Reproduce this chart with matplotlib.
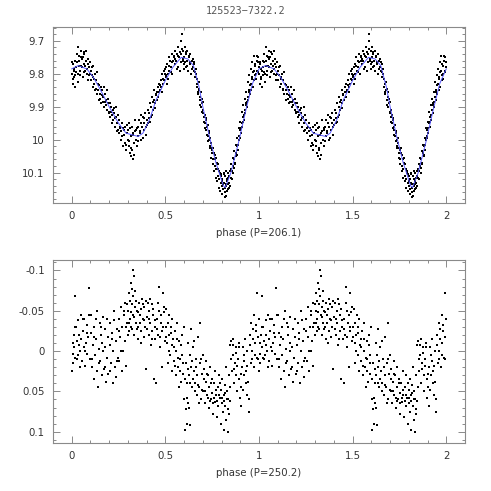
import matplotlib
matplotlib.use("Agg")
import matplotlib.pyplot as plt
from matplotlib.ticker import MultipleLocator, FixedLocator, FuncFormatter
import numpy as np

title = "125523\u22127322.2"
xlabel_top = "phase (P=206.1)"
xlabel_bot = "phase (P=250.2)"

# ---- top panel: phased light curve (one cycle, plotted twice) ----
top_phase = [
    0.002, 0.005, 0.008, 0.011, 0.014, 0.017, 0.020, 0.023, 0.027, 0.031, 0.035, 0.039, 0.043, 0.047,
    0.051, 0.054, 0.058, 0.061, 0.064, 0.068, 0.071, 0.075, 0.078, 0.082, 0.085, 0.089, 0.093, 0.097,
    0.101, 0.104, 0.108, 0.111, 0.115, 0.118, 0.122, 0.126, 0.130, 0.134, 0.138, 0.142, 0.146,
    0.151, 0.155, 0.158, 0.162, 0.166, 0.170, 0.174, 0.178, 0.182, 0.186, 0.190, 0.194, 0.198,
    0.202, 0.206, 0.210, 0.214, 0.218, 0.222, 0.226, 0.230, 0.234, 0.238, 0.242, 0.246,
    0.251, 0.255, 0.259, 0.263, 0.267, 0.271, 0.275, 0.279, 0.283, 0.287, 0.291, 0.295, 0.299,
    0.302, 0.305, 0.308, 0.311, 0.314, 0.317, 0.320, 0.323, 0.326, 0.329, 0.333, 0.337, 0.341, 0.345, 0.349,
    0.352, 0.356, 0.360, 0.364, 0.368, 0.372, 0.376, 0.380, 0.384, 0.388, 0.392, 0.396,
    0.401, 0.405, 0.409, 0.413, 0.417, 0.421, 0.425, 0.429, 0.433, 0.437, 0.441, 0.445,
    0.451, 0.455, 0.459, 0.463, 0.467, 0.471, 0.475, 0.479, 0.483, 0.487, 0.491, 0.495, 0.499,
    0.502, 0.505, 0.508, 0.511, 0.514, 0.518, 0.522, 0.526, 0.530, 0.534, 0.538, 0.542, 0.546,
    0.551, 0.554, 0.558, 0.562, 0.566, 0.570, 0.574, 0.578, 0.582, 0.586, 0.589, 0.592, 0.596, 0.599,
    0.602, 0.605, 0.608, 0.611, 0.614, 0.618, 0.622, 0.626, 0.630, 0.634, 0.638, 0.642, 0.646,
    0.651, 0.655, 0.659, 0.663, 0.667, 0.671, 0.675, 0.679, 0.683, 0.687, 0.691, 0.695, 0.699,
    0.703, 0.707, 0.711, 0.715, 0.719, 0.723, 0.727, 0.731, 0.735, 0.739, 0.743, 0.747,
    0.751, 0.755, 0.759, 0.763, 0.767, 0.771, 0.775, 0.779, 0.783, 0.787, 0.791, 0.795, 0.799,
    0.802, 0.805, 0.808, 0.811, 0.814, 0.817, 0.820, 0.823, 0.826, 0.829, 0.832, 0.835, 0.838, 0.842, 0.846,
    0.851, 0.855, 0.859, 0.863, 0.867, 0.871, 0.875, 0.879, 0.883, 0.887, 0.891, 0.895, 0.899,
    0.903, 0.907, 0.911, 0.915, 0.919, 0.923, 0.927, 0.931, 0.935, 0.939, 0.943, 0.947,
    0.951, 0.955, 0.959, 0.963, 0.967, 0.971, 0.975, 0.979, 0.983, 0.987, 0.991, 0.995, 0.998,
]
top_mag = [
    9.80, 9.83, 9.77, 9.81, 9.79, 9.84, 9.76, 9.78, 9.74, 9.80, 9.72, 9.76, 9.79, 9.75,
    9.73, 9.78, 9.81, 9.75, 9.77, 9.74, 9.79, 9.76, 9.73, 9.80, 9.77, 9.82, 9.78, 9.80,
    9.79, 9.82, 9.78, 9.84, 9.81, 9.83, 9.80, 9.85, 9.82, 9.86, 9.83, 9.85, 9.88,
    9.86, 9.84, 9.89, 9.85, 9.87, 9.84, 9.90, 9.86, 9.88, 9.85, 9.91, 9.89, 9.92,
    9.89, 9.93, 9.90, 9.95, 9.91, 9.94, 9.92, 9.96, 9.93, 9.90, 9.95, 9.97,
    9.94, 9.98, 9.96, 10.00, 9.95, 9.99, 10.02, 9.97, 10.01, 9.96, 10.03, 9.98, 10.00,
    9.97, 10.02, 9.95, 10.04, 9.99, 10.05, 9.96, 10.03, 10.06, 9.98, 10.01, 9.94, 10.00, 9.97, 10.02,
    9.96, 9.99, 9.94, 9.98, 9.95, 10.00, 9.96, 9.93, 9.97, 9.95, 9.92, 9.96,
    9.94, 9.91, 9.95, 9.92, 9.89, 9.93, 9.90, 9.87, 9.91, 9.88, 9.85, 9.89,
    9.86, 9.88, 9.84, 9.87, 9.83, 9.85, 9.82, 9.84, 9.80, 9.83, 9.79, 9.82, 9.80,
    9.81, 9.78, 9.83, 9.77, 9.80, 9.75, 9.79, 9.76, 9.78, 9.74, 9.80, 9.76, 9.75,
    9.77, 9.73, 9.76, 9.74, 9.78, 9.72, 9.75, 9.79, 9.74, 9.70, 9.68, 9.76, 9.73, 9.77,
    9.75, 9.72, 9.78, 9.74, 9.76, 9.73, 9.79, 9.75, 9.77, 9.74, 9.80, 9.76, 9.78,
    9.79, 9.77, 9.81, 9.80, 9.84, 9.83, 9.86, 9.85, 9.88, 9.87, 9.90, 9.89, 9.92,
    9.91, 9.93, 9.95, 9.94, 9.97, 9.96, 9.99, 9.98, 10.00, 10.02, 10.01, 10.04,
    10.03, 10.06, 10.04, 10.08, 10.06, 10.09, 10.07, 10.11, 10.09, 10.12, 10.10, 10.13, 10.11,
    10.14, 10.12, 10.15, 10.10, 10.13, 10.16, 10.11, 10.17, 10.14, 10.12, 10.15, 10.10, 10.13, 10.11, 10.14,
    10.09, 10.12, 10.08, 10.10, 10.06, 10.07, 10.04, 10.05, 10.02, 10.03, 10.00, 9.99, 9.97,
    9.98, 9.95, 9.96, 9.93, 9.94, 9.91, 9.92, 9.89, 9.90, 9.87, 9.88, 9.85,
    9.86, 9.83, 9.85, 9.81, 9.84, 9.79, 9.82, 9.77, 9.80, 9.76, 9.79, 9.75, 9.78,
]
# further observations of the same star (top panel)
top_phase_b = [
    0.004, 0.009, 0.013, 0.019, 0.025, 0.029, 0.033, 0.037, 0.041, 0.045, 0.049, 0.056, 0.063, 0.066,
    0.073, 0.080, 0.087, 0.091, 0.095, 0.107, 0.113, 0.120, 0.128, 0.136, 0.144, 0.153, 0.161, 0.168,
    0.176, 0.184, 0.192, 0.200, 0.208, 0.216, 0.224, 0.232, 0.240, 0.248, 0.257, 0.265, 0.273, 0.281,
    0.289, 0.297, 0.307, 0.313, 0.319, 0.325, 0.331, 0.339, 0.347, 0.354, 0.362, 0.370, 0.378, 0.386,
    0.394, 0.403, 0.411, 0.419, 0.427, 0.435, 0.443, 0.449, 0.457, 0.465, 0.473, 0.481, 0.489, 0.497,
    0.504, 0.512, 0.520, 0.528, 0.536, 0.544, 0.552, 0.560, 0.568, 0.576, 0.584, 0.590, 0.594, 0.598,
    0.604, 0.610, 0.616, 0.624, 0.632, 0.640, 0.648,
    0.652, 0.657, 0.661, 0.668, 0.672, 0.677, 0.681, 0.686, 0.689, 0.694, 0.697, 0.701, 0.705, 0.709,
    0.713, 0.717, 0.721, 0.725, 0.729, 0.733, 0.737, 0.741, 0.745, 0.749, 0.753, 0.757, 0.761, 0.765,
    0.769, 0.773, 0.777, 0.781, 0.785, 0.789, 0.793, 0.797, 0.801, 0.804, 0.809, 0.813, 0.816, 0.819,
    0.822, 0.825, 0.828, 0.831, 0.834, 0.837, 0.840, 0.844, 0.848, 0.853, 0.857, 0.861, 0.865, 0.869,
    0.873, 0.877, 0.881, 0.885, 0.889, 0.893, 0.897, 0.901, 0.905, 0.909, 0.913, 0.917, 0.921, 0.925,
    0.929, 0.933, 0.937, 0.941, 0.945, 0.949, 0.953, 0.957, 0.961, 0.965, 0.969, 0.973, 0.977, 0.981,
    0.985, 0.989, 0.993, 0.997,
]
top_mag_b = [
    9.765, 9.815, 9.785, 9.805, 9.795, 9.765, 9.825, 9.775, 9.745, 9.805, 9.775, 9.755, 9.795, 9.735,
    9.775, 9.785, 9.755, 9.805, 9.765, 9.805, 9.775, 9.815, 9.845, 9.795, 9.835, 9.875, 9.865, 9.885,
    9.885, 9.895, 9.875, 9.915, 9.915, 9.925, 9.905, 9.935, 9.975, 9.925, 9.965, 9.975, 9.965, 9.985,
    10.015, 9.955, 10.005, 9.965, 10.025, 9.985, 10.045, 9.975, 9.965, 10.005, 9.975, 9.925, 9.995, 9.935,
    9.985, 9.955, 9.935, 9.945, 9.925, 9.885, 9.905, 9.865, 9.855, 9.855, 9.835, 9.855, 9.815, 9.785,
    9.805, 9.815, 9.775, 9.795, 9.765, 9.745, 9.755, 9.785, 9.745, 9.735, 9.765, 9.725, 9.755, 9.785,
    9.765, 9.735, 9.775, 9.745, 9.765, 9.785, 9.755,
    9.765, 9.795, 9.785, 9.815, 9.855, 9.825, 9.845, 9.895, 9.855, 9.875, 9.915, 9.885, 9.945, 9.925,
    9.965, 9.935, 9.985, 9.955, 10.005, 9.975, 10.025, 9.995, 10.055, 10.025, 10.075, 10.025, 10.095, 10.045,
    10.115, 10.055, 10.125, 10.075, 10.145, 10.095, 10.155, 10.105, 10.125, 10.165, 10.135, 10.105, 10.145, 10.175,
    10.135, 10.095, 10.155, 10.125, 10.135, 10.115, 10.145, 10.095, 10.115, 10.075, 10.095, 10.055, 10.085, 10.035,
    10.075, 10.015, 10.045, 9.995, 10.015, 9.965, 9.995, 9.945, 9.965, 9.915, 9.945, 9.895, 9.925, 9.875,
    9.895, 9.855, 9.885, 9.825, 9.855, 9.805, 9.835, 9.785, 9.815, 9.765, 9.795, 9.745, 9.805, 9.775,
    9.815, 9.745, 9.795, 9.765,
]

# fitted model curve (one cycle)
fit_phase = [0.0, 0.035, 0.08, 0.115, 0.15, 0.2, 0.25, 0.29, 0.32, 0.355, 0.38, 0.415, 0.45,
             0.5, 0.54, 0.585, 0.62, 0.65, 0.68, 0.70, 0.735, 0.77, 0.81, 0.82, 0.85, 0.89,
             0.93, 0.965, 1.0]
fit_mag = [9.785, 9.775, 9.785, 9.81, 9.845, 9.90, 9.95, 9.98, 9.985, 9.99, 9.98, 9.94, 9.88,
           9.82, 9.78, 9.75, 9.755, 9.775, 9.84, 9.90, 9.99, 10.07, 10.14, 10.145, 10.10, 10.01,
           9.91, 9.83, 9.785]

# ---- bottom panel: residuals phased with second period ----
bot_phase = [
    0.002, 0.005, 0.008, 0.011, 0.014, 0.017, 0.020, 0.024, 0.028, 0.032, 0.036, 0.040, 0.044, 0.048,
    0.052, 0.056, 0.060, 0.064, 0.068, 0.072, 0.076, 0.080, 0.084, 0.088, 0.092, 0.096,
    0.101, 0.105, 0.109, 0.113, 0.117, 0.121, 0.125, 0.129, 0.133, 0.137, 0.141, 0.145, 0.149,
    0.152, 0.156, 0.160, 0.164, 0.168, 0.172, 0.176, 0.180, 0.184, 0.188, 0.192, 0.196,
    0.202, 0.206, 0.210, 0.214, 0.218, 0.222, 0.226, 0.230, 0.234, 0.238, 0.242, 0.246,
    0.251, 0.255, 0.259, 0.263, 0.267, 0.271, 0.275, 0.279, 0.283, 0.287, 0.291, 0.295, 0.299,
    0.302, 0.305, 0.308, 0.311, 0.314, 0.317, 0.320, 0.323, 0.326, 0.329, 0.332, 0.335, 0.338, 0.341, 0.344, 0.347,
    0.352, 0.356, 0.360, 0.364, 0.368, 0.372, 0.376, 0.380, 0.384, 0.388, 0.392, 0.396,
    0.402, 0.406, 0.410, 0.414, 0.418, 0.422, 0.426, 0.430, 0.434, 0.438, 0.442, 0.446,
    0.452, 0.456, 0.460, 0.464, 0.468, 0.472, 0.476, 0.480, 0.484, 0.488, 0.492, 0.496,
    0.502, 0.506, 0.510, 0.514, 0.518, 0.522, 0.526, 0.530, 0.534, 0.538, 0.542, 0.546,
    0.551, 0.555, 0.559, 0.563, 0.567, 0.571, 0.575, 0.579, 0.583, 0.587, 0.591, 0.595, 0.599,
    0.602, 0.605, 0.608, 0.611, 0.614, 0.617, 0.620, 0.623, 0.626, 0.629, 0.632, 0.635, 0.638, 0.642, 0.646,
    0.651, 0.655, 0.659, 0.663, 0.667, 0.671, 0.675, 0.679, 0.683, 0.687, 0.691, 0.695, 0.699,
    0.703, 0.707, 0.711, 0.715, 0.719, 0.723, 0.727, 0.731, 0.735, 0.739, 0.743, 0.747,
    0.751, 0.755, 0.759, 0.763, 0.767, 0.771, 0.775, 0.779, 0.783, 0.787, 0.791, 0.795, 0.799,
    0.802, 0.805, 0.808, 0.811, 0.814, 0.817, 0.820, 0.823, 0.826, 0.829, 0.832, 0.835, 0.838, 0.841, 0.844, 0.847,
    0.851, 0.855, 0.859, 0.863, 0.867, 0.871, 0.875, 0.879, 0.883, 0.887, 0.891, 0.895, 0.899,
    0.902, 0.906, 0.910, 0.914, 0.918, 0.922, 0.926, 0.930, 0.934, 0.938, 0.942, 0.946,
    0.951, 0.955, 0.959, 0.963, 0.967, 0.971, 0.975, 0.979, 0.983, 0.987, 0.991, 0.995, 0.998,
]
bot_val = [
    0.025, -0.010, 0.003, -0.020, -0.005, -0.068, 0.008, -0.030, -0.012, 0.005, -0.038, -0.020, 0.000, -0.045,
    -0.015, 0.012, -0.025, -0.005, -0.040, 0.018, -0.010, -0.032, 0.004, -0.018, -0.078, 0.010,
    -0.045, -0.022, 0.020, -0.008, 0.035, -0.030, 0.005, -0.015, 0.025, -0.050, 0.045, -0.002, -0.035,
    0.012, -0.020, 0.030, -0.010, -0.042, 0.022, -0.005, -0.028, 0.038, 0.008, -0.018, 0.028,
    -0.008, -0.035, 0.015, -0.022, 0.040, 0.000, -0.050, 0.020, -0.012, 0.032, -0.028, 0.008,
    -0.040, 0.012, -0.018, -0.055, 0.025, -0.030, 0.000, -0.045, -0.012, -0.060, 0.018, -0.035, -0.020,
    -0.050, -0.072, -0.025, -0.040, -0.085, -0.030, -0.058, -0.077, -0.100, -0.045, -0.093, -0.020, -0.055, -0.035, -0.062, -0.028,
    -0.048, -0.015, -0.060, -0.035, -0.052, -0.025, -0.065, -0.040, -0.018, -0.055, -0.030, 0.022,
    -0.042, -0.060, -0.020, -0.050, -0.035, -0.008, -0.058, -0.025, -0.045, 0.035, -0.030, -0.015,
    0.040, -0.040, -0.020, -0.080, -0.050, -0.005, -0.035, 0.020, -0.025, -0.072, -0.048, -0.012,
    -0.030, -0.052, -0.010, 0.015, -0.020, -0.045, 0.005, -0.030, 0.025, -0.008, -0.015, 0.012,
    -0.025, 0.030, 0.000, -0.035, 0.020, 0.045, -0.012, 0.010, 0.038, -0.020, 0.005, 0.028, -0.030,
    0.060, 0.098, 0.072, 0.015, 0.090, 0.040, 0.065, -0.010, 0.030, 0.092, 0.005, -0.028, 0.020, 0.045, -0.005,
    0.025, -0.012, 0.040, 0.010, 0.055, 0.030, -0.018, 0.045, 0.015, -0.035, 0.060, 0.028, 0.005,
    0.050, 0.022, 0.065, 0.038, 0.012, 0.055, 0.030, 0.070, 0.045, 0.020, 0.060, 0.035,
    0.052, 0.078, 0.040, 0.063, 0.025, 0.055, 0.082, 0.045, 0.068, 0.030, 0.058, 0.090, 0.048,
    0.065, 0.035, 0.075, 0.055, 0.098, 0.042, 0.068, 0.020, 0.085, 0.050, 0.100, 0.060, 0.030, 0.078, -0.008, 0.045,
    -0.012, 0.025, 0.005, -0.015, 0.040, 0.015, -0.005, 0.030, 0.050, 0.010, -0.010, 0.035, 0.058,
    0.045, 0.068, 0.020, -0.005, 0.030, 0.012, -0.015, 0.025, 0.055, 0.000, 0.038, 0.075,
    -0.020, 0.015, -0.035, 0.000, -0.028, 0.020, -0.045, -0.010, -0.032, 0.008, -0.072, -0.018, -0.040,
]
# further observations (bottom panel)
bot_phase_b = [
    0.006, 0.015, 0.026, 0.038, 0.046, 0.058, 0.070, 0.082, 0.094, 0.107, 0.119, 0.131, 0.143, 0.155,
    0.166, 0.178, 0.190, 0.204, 0.216, 0.228, 0.240, 0.253, 0.265, 0.277, 0.289, 0.297, 0.304, 0.310,
    0.316, 0.322, 0.328, 0.334, 0.340, 0.346, 0.354, 0.362, 0.370, 0.378, 0.386, 0.394, 0.404, 0.412,
    0.420, 0.428, 0.436, 0.444, 0.454, 0.462, 0.470, 0.478, 0.486, 0.494, 0.504, 0.512, 0.520, 0.528,
    0.536, 0.544, 0.553, 0.561, 0.569, 0.577, 0.585, 0.593, 0.604, 0.613, 0.619, 0.627, 0.633, 0.640,
    0.648, 0.657, 0.665, 0.673, 0.681, 0.689, 0.697, 0.705, 0.713, 0.721, 0.729, 0.737, 0.745, 0.753,
    0.761, 0.769, 0.777, 0.785, 0.793, 0.803, 0.812, 0.818, 0.827, 0.836, 0.845, 0.853, 0.861, 0.869,
    0.877, 0.885, 0.893, 0.904, 0.912, 0.920, 0.928, 0.936, 0.944, 0.953, 0.961, 0.969, 0.977, 0.985,
    0.993,
]
bot_val_b = [
    0.015, -0.030, 0.010, -0.008, 0.020, -0.040, 0.000, -0.022, -0.045, 0.010, -0.018, -0.040, 0.015, -0.030,
    0.000, 0.020, -0.040, 0.025, -0.015, -0.038, 0.012, -0.025, 0.000, -0.050, -0.030, -0.058, -0.035, -0.062,
    -0.048, -0.028, -0.068, -0.042, -0.075, -0.050, -0.030, -0.045, -0.010, -0.058, -0.038, -0.062, -0.028, -0.040,
    -0.065, -0.015, -0.052, -0.038, -0.028, -0.060, -0.018, -0.045, -0.030, -0.055, -0.018, -0.035, 0.000, -0.022,
    -0.040, -0.005, 0.018, -0.015, 0.008, 0.025, -0.008, 0.015, 0.035, 0.058, 0.022, 0.070, 0.040, 0.012,
    0.035, 0.050, 0.020, 0.042, 0.065, 0.010, 0.048, 0.035, 0.050, 0.028, 0.058, 0.062, 0.040, 0.065,
    0.058, 0.048, 0.062, 0.055, 0.040, 0.058, 0.062, 0.052, 0.060, 0.072, 0.062, 0.010, -0.008, 0.022,
    0.002, 0.018, -0.005, 0.028, 0.048, 0.005, 0.040, 0.018, 0.060, -0.008, 0.010, -0.015, 0.005, -0.025,
    0.010,
]

x_ticks = [0, 0.5, 1, 1.5, 2]
top_yticks = [9.7, 9.8, 9.9, 10.0, 10.1]
bot_yticks = [-0.1, -0.05, 0, 0.05, 0.1]

W = H = 4.91
fig = plt.figure(figsize=(W, H), dpi=100)
fig.patch.set_facecolor("white")

spine_c = "#8a8a8a"
label_c = "#333333"
fs = 7.3


def fmt(v, pos):
    return "%g" % v


def style(ax, yticks, yminor):
    for s in ax.spines.values():
        s.set_color(spine_c)
        s.set_linewidth(0.8)
    ax.set_xlim(-0.1, 2.1)
    ax.xaxis.set_major_locator(FixedLocator(x_ticks))
    ax.xaxis.set_minor_locator(MultipleLocator(0.1))
    ax.yaxis.set_major_locator(FixedLocator(yticks))
    ax.yaxis.set_minor_locator(MultipleLocator(yminor))
    ax.xaxis.set_major_formatter(FuncFormatter(fmt))
    ax.yaxis.set_major_formatter(FuncFormatter(fmt))
    ax.tick_params(which="both", direction="in", top=True, right=True,
                   color=spine_c, width=0.7, labelsize=fs, labelcolor=label_c)
    ax.tick_params(which="major", length=5, pad=6)
    ax.tick_params(which="minor", length=2.5)


def two_cycles(ph, val):
    p = np.concatenate([np.asarray(ph), np.asarray(ph) + 1])
    v = np.concatenate([np.asarray(val), np.asarray(val)])
    return p, v


ms = 2.0

ax1 = fig.add_axes([53 / 491, 1 - 203 / 491, 412 / 491, 176 / 491])
px, py = two_cycles(top_phase + top_phase_b, top_mag + top_mag_b)
ax1.plot(px, py, linestyle="none", marker="s", markersize=ms, markeredgewidth=0,
         color="black", zorder=2)
fx = np.concatenate([np.array(fit_phase), np.array(fit_phase[1:]) + 1])
fy = np.concatenate([np.array(fit_mag), np.array(fit_mag[1:])])
ax1.plot(fx, fy, color="#5b5bff", linewidth=0.7, zorder=3)
ax1.set_ylim(10.192, 9.658)
style(ax1, top_yticks, 0.02)
ax1.set_xlabel(xlabel_top, fontsize=fs, color=label_c, labelpad=5)

ax2 = fig.add_axes([53 / 491, 1 - 443 / 491, 412 / 491, 183 / 491])
bx, by = two_cycles(bot_phase + bot_phase_b, bot_val + bot_val_b)
ax2.plot(bx, by, linestyle="none", marker="s", markersize=ms, markeredgewidth=0,
         color="black", zorder=2)
ax2.set_ylim(0.114, -0.113)
style(ax2, bot_yticks, 0.01)
ax2.set_xlabel(xlabel_bot, fontsize=fs, color=label_c, labelpad=5)

fig.text(0.5, 1 - 11 / 491, title, ha="center", va="center", fontsize=7.3,
         color="#555555", family="DejaVu Sans Mono")

fig.savefig("out.png", dpi=100, facecolor="white")
